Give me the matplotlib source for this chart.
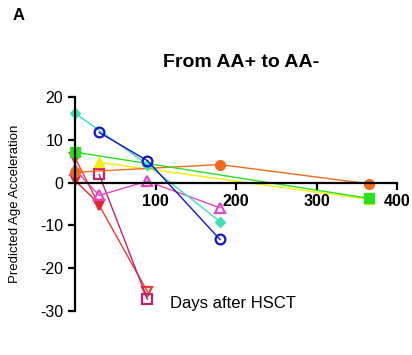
import matplotlib
matplotlib.use("Agg")
import matplotlib.pyplot as plt

plt.rcParams['font.family'] = ['Liberation Sans', 'DejaVu Sans']
plt.rcParams['axes.unicode_minus'] = False

# patient trajectories: days after HSCT, predicted age acceleration
cyan_days = [0, 90, 180]
cyan_vals = [16.2, 4.2, -9.1]
blue_days = [30, 90, 180]
blue_vals = [11.7, 5.1, -13.3]
green_days = [0, 365]
green_vals = [7.1, -3.7]
orange_days = [0, 180, 365]
orange_vals = [2.4, 4.2, -0.3]
yellow_days = [30, 365]
yellow_vals = [4.7, -3.9]
magenta_days = [0, 30, 90, 180]
magenta_vals = [3.0, -3.0, 0.3, -5.9]
red1_days = [0, 30]
red1_vals = [0.5, -5.0]
red2_days = [0, 30, 90]
red2_vals = [5.8, -5.3, -25.5]
crimson_days = [30, 90]
crimson_vals = [1.9, -27.3]

fig = plt.figure(figsize=(4.12, 3.55), dpi=100)
ax = fig.add_axes([0.182, 0.124, 0.782, 0.603])

lw = 1.0
ax.plot(red2_days, red2_vals, color='#f03a30', marker='v', ms=7, mfc='none', mew=1.6, lw=lw, clip_on=False)
ax.plot(red1_days, red1_vals, color='#e5232a', marker='v', ms=7, lw=lw, clip_on=False)
ax.plot(crimson_days, crimson_vals, color='#c8206a', marker='s', ms=7, mfc='none', mew=1.6, lw=lw, clip_on=False)
ax.plot(magenta_days, magenta_vals, color='#e048c8', marker='^', ms=7, mfc='none', mew=1.6, lw=lw, clip_on=False)
ax.plot(yellow_days, yellow_vals, color='#f2f000', marker='^', ms=7, lw=lw, clip_on=False)
ax.plot(orange_days, orange_vals, color='#f26a1e', marker='o', ms=7, lw=lw, clip_on=False)
ax.plot(green_days, green_vals, color='#28e020', marker='s', ms=7, lw=lw, clip_on=False)
ax.plot(cyan_days, cyan_vals, color='#3fe0b8', marker='D', ms=5, lw=lw, clip_on=False)
ax.plot(blue_days, blue_vals, color='#1414c8', marker='o', ms=7, mfc='none', mew=1.6, lw=lw, clip_on=False)

ax.set_xlim(0, 400)
ax.set_ylim(-30, 20)
ax.spines['top'].set_visible(False)
ax.spines['right'].set_visible(False)
ax.spines['bottom'].set_position(('data', 0))
ax.spines['left'].set_linewidth(1.6)
ax.spines['bottom'].set_linewidth(1.6)
ax.set_xticks([100, 200, 300, 400])
ax.set_yticks([-30, -20, -10, 0, 10, 20])
ax.tick_params(axis='both', width=1.6, length=5, labelsize=11.5)
for lab in ax.get_xticklabels():
    lab.set_fontweight('bold')

ax.set_ylabel('Predicted Age Acceleration', fontsize=9.5, labelpad=14)
fig.text(0.565, 0.145, 'Days after HSCT', fontsize=12, ha='center', va='center')
fig.text(0.585, 0.825, 'From AA+ to AA-', fontsize=14, fontweight='bold', ha='center', va='center')
fig.text(0.03, 0.955, 'A', fontsize=12, fontweight='bold', ha='left', va='center')

fig.savefig('out.png', dpi=100)
